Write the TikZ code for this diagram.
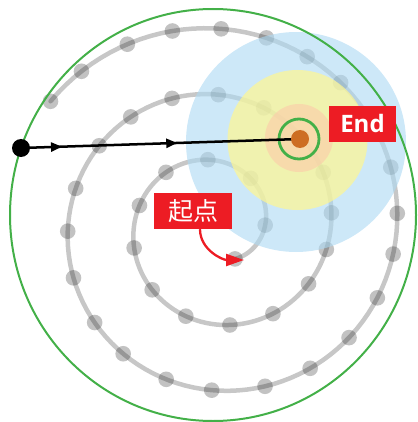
\documentclass[tikz,border=0pt]{standalone}
\usepackage{fontspec}
\newfontfamily\labelfont{Open Sans}
\newfontfamily\cjkfont{Noto Sans CJK SC}
\usetikzlibrary{arrows.meta,decorations.markings}
\definecolor{ringgreen}{RGB}{67,176,72}
\definecolor{labelred}{RGB}{237,28,36}
\definecolor{zoneblue}{RGB}{172,217,243}
\definecolor{zoneyellow}{RGB}{255,246,144}
\definecolor{zonepeach}{RGB}{253,202,170}
\definecolor{endorange}{RGB}{205,110,35}
\tikzset{
  spiralline/.style={draw=black, draw opacity=0.22, line width=4.5pt, line cap=round},
  spiraldot/.style={fill=black, fill opacity=0.24},
  zone/.style={fill opacity=#1},
  redlabel/.style={fill=labelred, text=white, inner sep=0pt, anchor=center},
  midarrows/.style={decoration={markings,
      mark=at position 0.147 with {\arrow{Triangle[length=11pt,width=9pt]}},
      mark=at position 0.56 with {\arrow{Triangle[length=11pt,width=9pt]}}},
      postaction={decorate}},
}
\begin{document}
\begin{tikzpicture}[x=1pt,y=-1pt]
\useasboundingbox (0,0) rectangle (417,422);
% spiral
\draw[spiralline] plot[domain=-60:863, samples=300, variable=\t]
  ({216+(49+0.183333*\t)*cos(\t)},{226-(49+0.183333*\t)*sin(\t)});
\foreach \a in {-60,1,54,97,133,165,195,225,251.5,278,303,328,348,366.5,386.6,406,428,449,469,488,505.5,525,542,560,578.5,594,612,628.5,647,663.5,680,696,711,724,738.6,754,769,781.7,795,808.5,822.6,836,851,863}
  \fill[spiraldot] ({216+(49+0.183333*\a)*cos(\a)},{226-(49+0.183333*\a)*sin(\a)}) circle[radius=7.8];
% zones
\fill[zoneblue, zone=0.6] (296,142) circle[radius=110];
\fill[zoneyellow, zone=0.7] (297.5,140) circle[radius=70];
\fill[zonepeach, zone=0.6] (299,138) circle[radius=34];
% big green circle
\draw[ringgreen, line width=2pt] (213,215) ellipse[x radius=203, y radius=206];
% nodes
\node[circle, draw=ringgreen, line width=2.8pt, minimum size=40pt, inner sep=0pt] (ring) at (299,139) {};
\coordinate (startpt) at (21,148);
\coordinate (endpt) at (300,139);
\draw[line width=2.5pt, midarrows] (startpt) -- (endpt);
\node[circle, fill=endorange, minimum size=18pt, inner sep=0pt] (enddot) at (endpt) {};
\node[circle, fill=black, minimum size=18pt, inner sep=0pt] (startdot) at (startpt) {};
% labels
\node[redlabel, minimum width=67pt, minimum height=36pt, font=\labelfont\bfseries\fontsize{24}{24}\selectfont] (endlabel) at (362.5,124) {End};
\node[redlabel, minimum width=78pt, minimum height=36pt, font=\cjkfont\fontsize{25}{25}\selectfont] (qidian) at (193,211) {起点};
\coordinate (tip) at (244,260);
\draw[labelred, line width=2.3pt, -{Triangle[length=18pt,width=12pt]}]
  ([xshift=7pt]qidian.south) to[out=-90, in=180] (tip);
\end{tikzpicture}
\end{document}
